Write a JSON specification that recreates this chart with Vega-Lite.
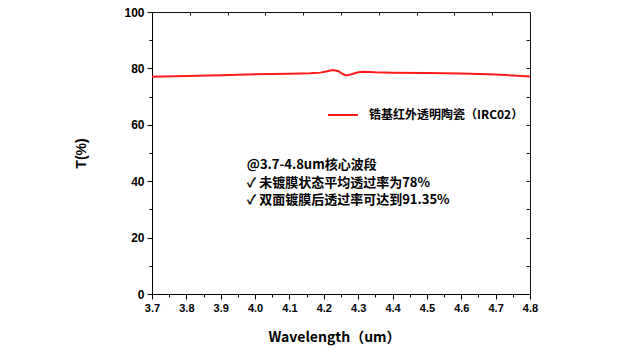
{
  "$schema": "https://vega.github.io/schema/vega-lite/v6.json",
  "width": 378,
  "height": 282,
  "autosize": {"type": "none"},
  "padding": {"left": 152, "top": 12, "right": 96, "bottom": 63},
  "background": "white",
  "config": {"view": {"stroke": null}, "axis": {"domainColor": "#000", "tickColor": "#000", "domainWidth": 1, "tickWidth": 1}},
  "datasets": {
    "curve": [
      {"wl": 3.70, "T": 77.0, "s": "锆基红外透明陶瓷（IRC02）"},
      {"wl": 3.80, "T": 77.3, "s": "锆基红外透明陶瓷（IRC02）"},
      {"wl": 3.90, "T": 77.6, "s": "锆基红外透明陶瓷（IRC02）"},
      {"wl": 4.00, "T": 77.9, "s": "锆基红外透明陶瓷（IRC02）"},
      {"wl": 4.10, "T": 78.1, "s": "锆基红外透明陶瓷（IRC02）"},
      {"wl": 4.16, "T": 78.3, "s": "锆基红外透明陶瓷（IRC02）"},
      {"wl": 4.19, "T": 78.5, "s": "锆基红外透明陶瓷（IRC02）"},
      {"wl": 4.21, "T": 79.0, "s": "锆基红外透明陶瓷（IRC02）"},
      {"wl": 4.227, "T": 79.4, "s": "锆基红外透明陶瓷（IRC02）"},
      {"wl": 4.243, "T": 79.0, "s": "锆基红外透明陶瓷（IRC02）"},
      {"wl": 4.255, "T": 78.0, "s": "锆基红外透明陶瓷（IRC02）"},
      {"wl": 4.265, "T": 77.5, "s": "锆基红外透明陶瓷（IRC02）"},
      {"wl": 4.28, "T": 77.9, "s": "锆基红外透明陶瓷（IRC02）"},
      {"wl": 4.30, "T": 78.6, "s": "锆基红外透明陶瓷（IRC02）"},
      {"wl": 4.315, "T": 78.8, "s": "锆基红外透明陶瓷（IRC02）"},
      {"wl": 4.35, "T": 78.6, "s": "锆基红外透明陶瓷（IRC02）"},
      {"wl": 4.40, "T": 78.5, "s": "锆基红外透明陶瓷（IRC02）"},
      {"wl": 4.50, "T": 78.4, "s": "锆基红外透明陶瓷（IRC02）"},
      {"wl": 4.60, "T": 78.2, "s": "锆基红外透明陶瓷（IRC02）"},
      {"wl": 4.70, "T": 77.8, "s": "锆基红外透明陶瓷（IRC02）"},
      {"wl": 4.75, "T": 77.5, "s": "锆基红外透明陶瓷（IRC02）"},
      {"wl": 4.80, "T": 77.1, "s": "锆基红外透明陶瓷（IRC02）"}
    ],
    "notes": [
      {"wl": 3.976, "T": 45.7, "text": "@3.7-4.8um核心波段"},
      {"wl": 3.976, "T": 39.5, "text": "✓  未镀膜状态平均透过率为78%"},
      {"wl": 3.976, "T": 33.3, "text": "✓  双面镀膜后透过率可达到91.35%"}
    ]
  },
  "resolve": {"axis": {"x": "independent", "y": "independent"}},
  "layer": [
    {
      "data": {"name": "curve"},
      "mark": {"type": "line", "strokeWidth": 2},
      "encoding": {
        "x": {
          "field": "wl", "type": "quantitative",
          "scale": {"domain": [3.7, 4.8], "nice": false, "zero": false},
          "axis": {
            "orient": "bottom",
            "title": "Wavelength（um）",
            "titleFont": "Noto Sans CJK SC", "titleFontWeight": "bold", "titleFontSize": 14, "titlePadding": 17, "titleX": 182, "titleColor": "#000",
            "values": [3.7, 3.75, 3.8, 3.85, 3.9, 3.95, 4.0, 4.05, 4.1, 4.15, 4.2, 4.25, 4.3, 4.35, 4.4, 4.45, 4.5, 4.55, 4.6, 4.65, 4.7, 4.75, 4.8],
            "labelExpr": "round(datum.value*100) % 10 === 0 ? format(datum.value, '.1f') : ''",
            "tickSize": {"condition": {"test": "round(datum.value*100) % 10 === 0", "value": 5}, "value": 3},
            "labelFont": "Liberation Sans", "labelFontWeight": "bold", "labelFontSize": 11, "labelColor": "#000",
            "labelOverlap": false, "labelPadding": 3, "labelFlush": false,
            "grid": false
          }
        },
        "y": {
          "field": "T", "type": "quantitative",
          "scale": {"domain": [0, 100], "nice": false},
          "axis": {
            "orient": "left",
            "title": "T(%)",
            "titleFont": "Liberation Sans", "titleFontWeight": "bold", "titleFontSize": 14, "titlePadding": 35, "titleColor": "#000",
            "values": [0, 10, 20, 30, 40, 50, 60, 70, 80, 90, 100],
            "labelExpr": "datum.value % 20 === 0 ? datum.value : ''",
            "tickSize": {"condition": {"test": "datum.value % 20 === 0", "value": 5}, "value": 3},
            "labelFont": "Liberation Sans", "labelFontWeight": "bold", "labelFontSize": 12, "labelColor": "#000",
            "labelOverlap": false, "labelPadding": 3,
            "grid": false
          }
        },
        "color": {
          "field": "s", "type": "nominal",
          "scale": {"range": ["#ff1a1a"]},
          "legend": {
            "orient": "none", "legendX": 175, "legendY": 87,
            "title": null,
            "symbolType": "stroke", "symbolSize": 900, "symbolStrokeWidth": 2,
            "labelFont": "Noto Sans CJK SC", "labelFontWeight": "bold", "labelFontSize": 12, "labelColor": "#000",
            "labelOffset": 10, "labelLimit": 400
          }
        }
      }
    },
    {
      "data": {"name": "notes"},
      "mark": {"type": "text", "align": "left", "baseline": "middle", "font": "Noto Sans CJK SC", "fontWeight": "bold", "fontSize": 13, "color": "#000"},
      "encoding": {
        "x": {
          "field": "wl", "type": "quantitative",
          "axis": {
            "orient": "top", "title": null, "labels": false, "grid": false, "domainColor": "#111111", "tickColor": "#111111",
            "values": [3.81, 3.92, 4.03, 4.14, 4.25, 4.36, 4.47, 4.58, 4.69],
            "tickSize": -3
          }
        },
        "y": {
          "field": "T", "type": "quantitative",
          "axis": {
            "orient": "right", "title": null, "labels": true, "labelColor": "#ffffff", "labelOpacity": 0, "grid": false, "domainColor": "#111111", "tickColor": "#111111",
            "values": [10, 20, 30, 40, 50, 60, 70, 80, 90],
            "tickSize": -4
          }
        },
        "text": {"field": "text"}
      }
    }
  ]
}
